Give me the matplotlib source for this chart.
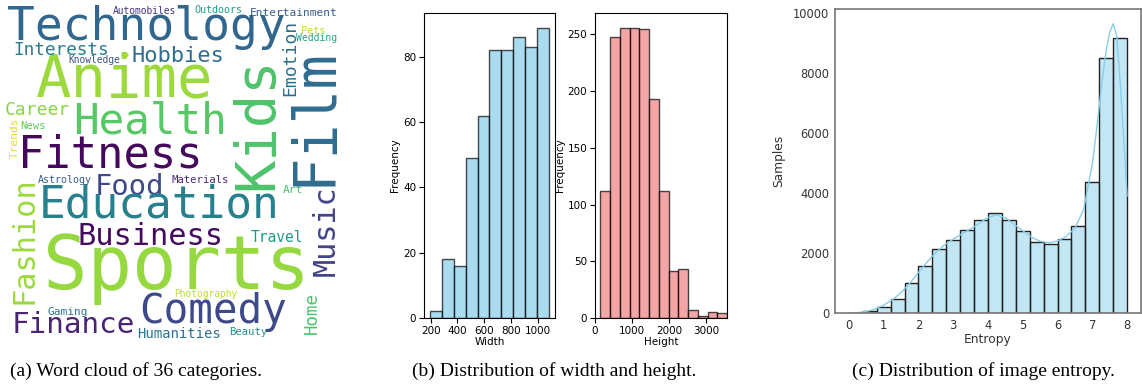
import numpy as np
import matplotlib
matplotlib.use("Agg")
import matplotlib.pyplot as plt
from matplotlib.colors import to_rgba

# (a) word cloud: 36 categories
words = ["Technology", "Anime", "Health", "Fitness", "Food", "Education",
         "Business", "Sports", "Comedy", "Finance", "Humanities", "Gaming",
         "Photography", "Beauty", "Travel", "Materials", "Astrology", "Art",
         "Career", "News", "Interests", "Hobbies", "Knowledge", "Automobiles",
         "Outdoors", "Entertainment", "Pets", "Wedding", "Kids", "Film",
         "Emotion", "Music", "Fashion", "Home", "Trends", "\u2022"]

# layout of the cloud, in pixels of the cloud box: x, y, size(pt), rotation, viridis value
# horizontal words: x = centre, y = baseline ; vertical words: x = baseline, y = centre
cloud_layout = [
    (146.5, 40, 33.3, 0, 0.33), (125, 97, 42.4, 0, 0.85), (150.5, 133, 30.7, 0, 0.74),
    (110.5, 168, 31.5, 0, 0.02), (130, 195, 20.8, 0, 0.22), (159.5, 218, 32.0, 0, 0.43),
    (150.5, 245, 21.9, 0, 0.03), (176, 289, 53.2, 0, 0.84), (213.5, 323, 29.5, 0, 0.22),
    (73, 333, 21.1, 0, 0.10), (178.5, 338, 10.1, 0, 0.38), (67.5, 315, 8.0, 0, 0.40),
    (206, 297, 6.9, 0, 0.90), (248.5, 335, 7.6, 0, 0.50), (276.5, 242, 10.5, 0, 0.55),
    (200.5, 183, 7.7, 0, 0.12), (64.5, 183, 7.2, 0, 0.28), (292.5, 193, 8.1, 0, 0.72),
    (37.5, 115, 13.0, 0, 0.82), (33, 129, 7.6, 0, 0.75), (61, 55, 12.8, 0, 0.42),
    (178, 62, 15.8, 0, 0.35), (94.5, 62.7, 6.9, 0, 0.25), (144, 14, 6.9, 0, 0.15),
    (218.5, 13, 7.2, 0, 0.55), (294, 16, 8.0, 0, 0.30), (313.5, 34, 7.3, 0, 0.90),
    (317, 40.7, 7.0, 0, 0.58), (272, 123.5, 40.0, 90, 0.72), (330, 116, 41.5, 90, 0.35),
    (295, 58, 13.0, 90, 0.36), (335, 231, 21.7, 90, 0.20), (33, 240, 21.8, 90, 0.85),
    (317, 313, 12.6, 90, 0.72), (18, 137.5, 8.0, 90, 0.95), (127, 60, 9.0, 0, 0.88),
]

# (b) width / height histograms
width_edges = [195, 284, 373, 462, 551, 640, 729, 818, 907, 996, 1085]
width_counts = [2, 18, 16, 49, 62, 82, 82, 86, 83, 89]
height_edges = [145, 408, 671, 934, 1197, 1460, 1723, 1986, 2249, 2512,
                2775, 3038, 3301, 3564]
height_counts = [112, 248, 256, 256, 255, 193, 112, 41, 43, 7, 2, 5, 4]

# (c) entropy histogram + kde curve
entropy_edges = [0.0, 0.4, 0.8, 1.2, 1.6, 2.0, 2.4, 2.8, 3.2, 3.6, 4.0,
                 4.4, 4.8, 5.2, 5.6, 6.0, 6.4, 6.8, 7.2, 7.6, 8.0]
entropy_counts = [10, 55, 190, 480, 1010, 1550, 2140, 2440, 2780, 3110, 3320,
                  3085, 2730, 2350, 2295, 2450, 2905, 4375, 8510, 9175]
kde_x = [0, 0.25, 0.5, 0.75, 1.0, 1.25, 1.5, 1.75, 2.0, 2.25, 2.5, 2.75, 3.0,
         3.25, 3.5, 3.75, 4.0, 4.25, 4.5, 4.75, 5.0, 5.25, 5.5, 5.75, 6.0,
         6.25, 6.5, 6.75, 7.0, 7.1, 7.2, 7.3, 7.4, 7.5, 7.6, 7.7, 7.8, 7.9, 8.0]
kde_y = [0, 10, 50, 130, 260, 440, 680, 990, 1350, 1700, 2020, 2270, 2460,
         2640, 2800, 2990, 3180, 3270, 3170, 2960, 2740, 2530, 2390, 2340, 2400,
         2550, 2820, 3450, 4950, 5900, 6900, 7900, 8750, 9350, 9640, 9250, 7700,
         5900, 3900]

captions = ["(a) Word cloud of 36 categories.",
            "(b) Distribution of width and height.",
            "(c) Distribution of image entropy."]

W, H = 1142, 389
fig = plt.figure(figsize=(W / 100, H / 100), dpi=100)


def px_axes(x0, y0, x1, y1):
    # axes from pixel box (top-left origin)
    return fig.add_axes([x0 / W, 1 - y1 / H, (x1 - x0) / W, (y1 - y0) / H])


# ---- (a) word cloud
ax = px_axes(0, 0, 345, 345)
ax.set_xlim(0, 345)
ax.set_ylim(345, 0)
ax.axis("off")
cmap = plt.get_cmap("viridis")
for word, (x, y, size, rot, cv) in zip(words, cloud_layout):
    if rot == 0:
        ax.text(x, y, word, fontsize=size, family="DejaVu Sans Mono",
                color=cmap(cv), ha="center", va="baseline")
    else:
        ax.text(x, y, word, fontsize=size, family="DejaVu Sans Mono",
                color=cmap(cv), ha="center", va="baseline",
                rotation=rot, rotation_mode="anchor")


# ---- (b) width and height
def hist_bars(ax, edges, counts, color):
    edges = np.array(edges, dtype=float)
    ax.bar(edges[:-1], counts, width=np.diff(edges), align="edge",
           color=color, edgecolor="black", alpha=0.7, linewidth=1)


axw = px_axes(424, 13, 555, 318)
hist_bars(axw, width_edges, width_counts, "skyblue")
axw.set_xlabel("Width", fontsize=7.5, labelpad=1)
axw.set_ylabel("Frequency", fontsize=7.5, labelpad=2)
axw.set_xticks([200, 400, 600, 800, 1000])
axw.set_yticks([0, 20, 40, 60, 80])
axw.tick_params(labelsize=7.5, pad=2)

axh = px_axes(595, 13, 727, 318)
hist_bars(axh, height_edges, height_counts, "lightcoral")
axh.set_xlim(0, 3560)
axh.set_xlabel("Height", fontsize=7.5, labelpad=1)
axh.set_ylabel("Frequency", fontsize=7.5, labelpad=2)
axh.set_xticks([0, 1000, 2000, 3000])
axh.set_yticks([0, 50, 100, 150, 200, 250])
axh.tick_params(labelsize=7.5, pad=2)

# ---- (c) entropy
axe = px_axes(835, 9, 1141, 313)
e = np.array(entropy_edges)
axe.bar(e[:-1], entropy_counts, width=np.diff(e), align="edge",
        color=to_rgba("skyblue", 0.5), edgecolor="#222222", linewidth=1)
axe.plot(kde_x, kde_y, color="skyblue", linewidth=1)
axe.set_xlim(-0.4, 8.4)
axe.set_ylim(0, 10130)
axe.set_xticks(range(9))
axe.set_yticks([0, 2000, 4000, 6000, 8000, 10000])
axe.tick_params(labelsize=8.3, length=0, pad=4, colors="#333333")
axe.set_xlabel("Entropy", fontsize=8.8, color="#333333", labelpad=1)
axe.set_ylabel("Samples", fontsize=8.8, color="#333333", labelpad=6)
for s in axe.spines.values():
    s.set_color("#777777")
    s.set_linewidth(1.2)

# ---- captions
for cx, txt in zip([136, 554, 983], captions):
    fig.text(cx / W, 1 - 371 / H, txt, fontsize=14, family="Liberation Serif",
             ha="center", va="center")

fig.savefig("out.png", dpi=100)
